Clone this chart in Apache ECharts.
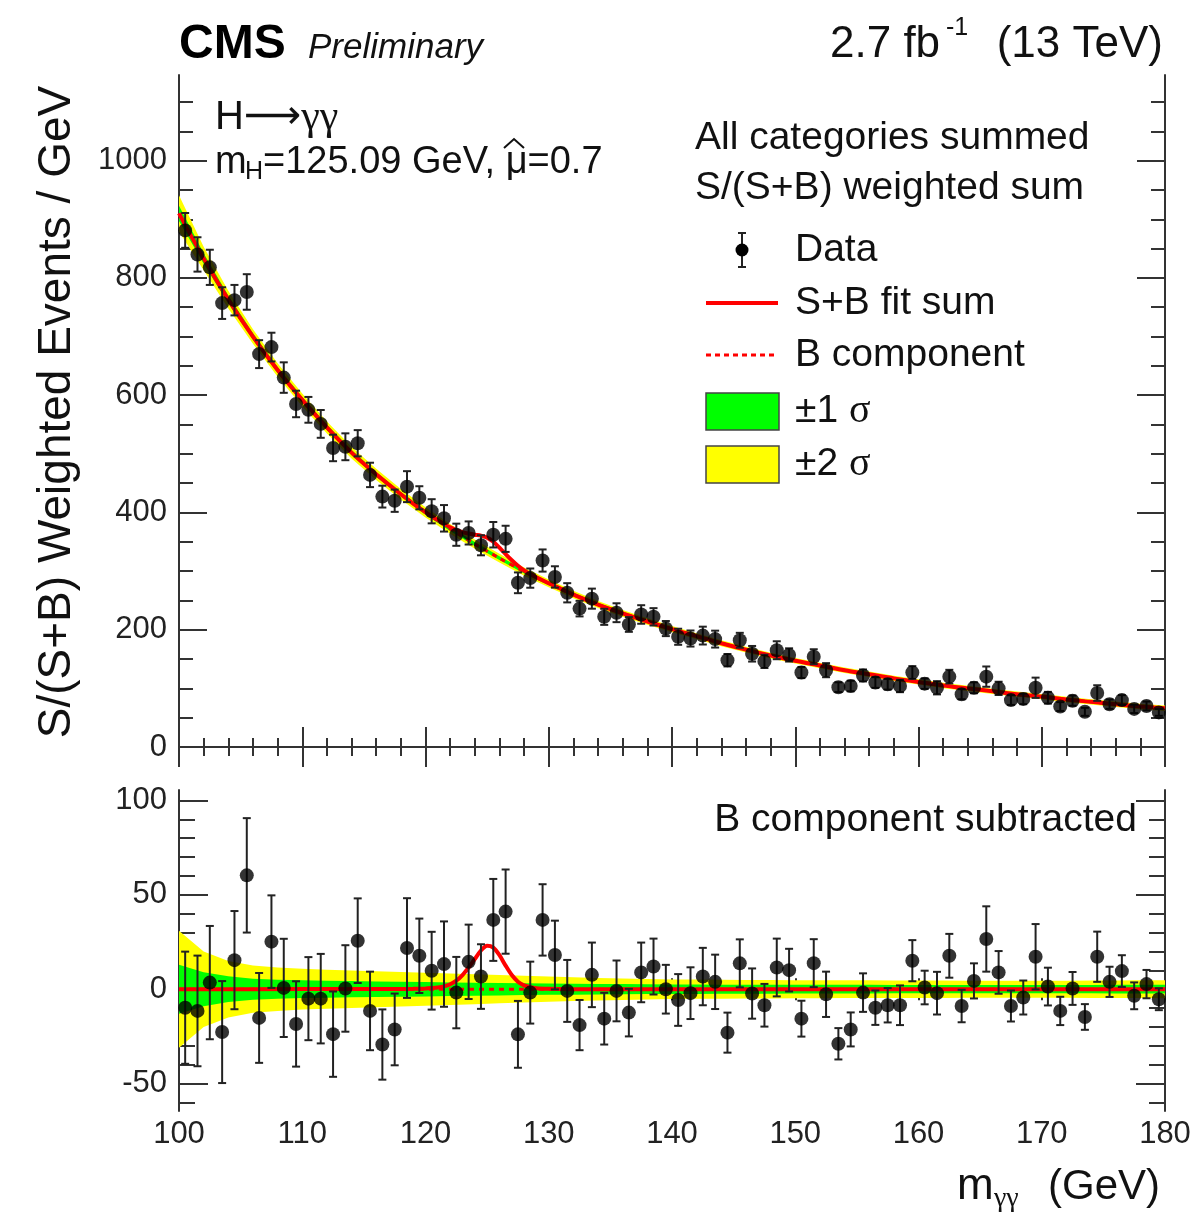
<!DOCTYPE html>
<html>
<head>
<meta charset="utf-8">
<script src="https://cdn.jsdelivr.net/npm/echarts@6/dist/echarts.min.js"></script>
<style>
html, body { margin: 0; padding: 0; background: #fff; }
#chart { width: 1196px; height: 1213px; }
</style>
</head>
<body>
<div id="chart"></div>
<script>
// bin centres in GeV (1 GeV bins)
const binCenters = [
  100.5, 101.5, 102.5, 103.5, 104.5, 105.5, 106.5, 107.5, 108.5, 109.5,
  110.5, 111.5, 112.5, 113.5, 114.5, 115.5, 116.5, 117.5, 118.5, 119.5,
  120.5, 121.5, 122.5, 123.5, 124.5, 125.5, 126.5, 127.5, 128.5, 129.5,
  130.5, 131.5, 132.5, 133.5, 134.5, 135.5, 136.5, 137.5, 138.5, 139.5,
  140.5, 141.5, 142.5, 143.5, 144.5, 145.5, 146.5, 147.5, 148.5, 149.5,
  150.5, 151.5, 152.5, 153.5, 154.5, 155.5, 156.5, 157.5, 158.5, 159.5,
  160.5, 161.5, 162.5, 163.5, 164.5, 165.5, 166.5, 167.5, 168.5, 169.5,
  170.5, 171.5, 172.5, 173.5, 174.5, 175.5, 176.5, 177.5, 178.5, 179.5
];
// upper panel: weighted events / GeV
const dataTop = [
  881, 840, 818, 757, 762, 776, 670, 682, 630, 585,
  575, 551, 510, 512, 518, 464, 427, 420, 444, 425,
  402, 390, 362, 365, 344, 362, 355, 280, 288, 318,
  290, 263, 236, 253, 222, 229, 209, 226, 222, 202,
  188, 185, 190, 184, 148, 182, 159, 146, 165, 157,
  127, 154, 131, 102, 104, 122, 110, 107, 104, 127,
  108, 101, 120, 90, 101, 120, 100, 80, 82, 101,
  84, 69, 79, 60, 92, 73, 80, 65, 70, 59
];
// lower panel: data minus B component
const dataSub = [
  -9.8, -11.5, 3.5, -22.7, 15.4, 60.3, -15.2, 25.2, 0.7, -18.4,
  -5, -5, -23.8, 0.4, 25.7, -11.5, -29.3, -21.3, 21.8, 17.7,
  9.8, 13.3, -1.8, 14.5, 6.7, 36.7, 41.1, -23.9, -1.8, 36.7,
  18.1, -0.9, -19, 7.6, -15.6, -0.9, -12.4, 8.9, 12, 0,
  -5.7, -2.1, 6.7, 3.9, -23, 13.7, -2.3, -8.5, 11.5, 10.1,
  -15.6, 13.8, -2.7, -28.9, -21.3, -1.8, -9.8, -8.5, -8.5, 15.1,
  0.9, -2.1, 17.7, -8.9, 4.4, 26.6, 8.9, -8.9, -4.4, 17.2,
  1.4, -11.5, 0.4, -14.7, 17.2, 3.9, 9.6, -3.5, 2.7, -5.3
];
// half length of the error bars (same in both panels)
const dataErr = [
  29.7, 29.3, 30, 27, 26, 30.3, 23.8, 24.5, 26, 22.6,
  22, 23.7, 22.6, 22.9, 22.4, 20.8, 18.6, 19, 26.4, 19.7,
  20.6, 22.6, 18.9, 19.7, 17.1, 21.7, 22.3, 17.7, 16.4, 18.9,
  18.2, 16.4, 13.3, 17.1, 13.7, 16.1, 12.6, 15.8, 14.8, 12.9,
  13.7, 13.7, 15.2, 14.4, 10.6, 12.7, 13.3, 11.3, 15.3, 11.3,
  9.5, 12.7, 12, 8.3, 9, 10.2, 9.1, 9.1, 10.5, 10.9,
  8.9, 11.3, 11.6, 8.6, 9.3, 17.3, 11.3, 8.2, 9, 17.3,
  10, 7.5, 8.7, 6.8, 13.3, 8, 8.4, 7.1, 7.5, 5.8
];

// background fit and its uncertainty bands, sampled every 2 GeV
const fitMass = [
  100, 102, 104, 106, 108, 110, 112, 114, 116, 118, 120, 122, 124, 126,
  128, 130, 132, 134, 136, 138, 140, 142, 144, 146, 148, 150, 152, 154,
  156, 158, 160, 162, 164, 166, 168, 170, 172, 174, 176, 178, 180
];
const bkgFit = [
  910, 833, 763, 700, 643, 592, 545, 502, 465, 431, 400, 372, 346, 322,
  299, 279, 260, 243, 228, 214, 201, 189, 177, 166, 156, 147, 139, 131,
  124, 117, 111, 105, 100, 95, 90, 86, 81, 77, 73, 69, 66
];
const band1Half = [
  13, 9, 6.8, 5.6, 5, 4.7, 4.5, 4.3, 4.1, 4, 3.8, 3.6, 3.4, 3.3,
  3.1, 3, 2.9, 2.8, 2.7, 2.6, 2.5, 2.5, 2.4, 2.4, 2.4, 2.3, 2.3, 2.3,
  2.3, 2.2, 2.2, 2.2, 2.2, 2.2, 2.2, 2.2, 2.2, 2.2, 2.3, 2.3, 2.3
];
const band2Half = [
  31, 20, 15, 12.5, 11.5, 10.8, 10.3, 9.9, 9.5, 9.1, 8.7, 8.3, 7.9, 7.5,
  7.1, 6.7, 6.3, 6, 5.7, 5.4, 5.2, 5.1, 5, 4.9, 4.9, 4.8, 4.8, 4.7,
  4.7, 4.6, 4.6, 4.6, 4.5, 4.5, 4.5, 4.5, 4.5, 4.6, 4.6, 4.7, 4.8
];

// S+B fit, finer around the peak
const sbMass = [
  100, 102, 104, 106, 108, 110, 112, 114, 116, 118, 119, 120, 120.5, 121,
  121.5, 122, 122.5, 123, 123.5, 124, 124.5, 125, 125.5, 126, 126.5, 127,
  127.5, 128, 128.5, 129, 130, 131, 132, 134, 136, 138, 140, 142, 144, 146,
  148, 150, 152, 154, 156, 158, 160, 162, 164, 166, 168, 170, 172, 174,
  176, 178, 180
];
const sbFit = [
  910, 833, 763, 700, 643, 592, 545, 502, 465, 431, 415.2, 400.4, 393.6, 386.9,
  380.5, 374.6, 370, 366.5, 364, 362, 360.5, 357, 350, 340, 329, 318.5,
  309, 301, 295, 289.5, 279.2, 269.6, 260, 243, 228, 214, 201, 189, 177, 166,
  156, 147, 139, 131, 124, 117, 111, 105, 100, 95, 90, 86, 81, 77,
  73, 69, 66
];
// signal only (S+B minus B), lower panel
const sigMass = [
  100, 110, 118, 119, 120, 120.5, 121, 121.5, 122, 122.5, 123, 123.5, 124,
  124.5, 125, 125.5, 126, 126.5, 127, 127.5, 128, 128.5, 129, 130, 131, 132,
  140, 150, 160, 170, 180
];
const sigFit = [
  0, 0.05, 0.1, 0.2, 0.4, 0.6, 0.9, 1.5, 2.6, 4.5, 7.5, 11.5, 16,
  20.5, 23, 22, 18, 12.5, 7.5, 4, 2, 1, 0.5, 0.2, 0.1, 0,
  0, 0, 0, 0, 0
];
const zeroMass = [100, 180];
const zeroLine = [0, 0];

const topYLabels = [0, 200, 400, 600, 800, 1000];
const topYMinor = [50, 100, 150, 250, 300, 350, 450, 500, 550, 650, 700, 750, 850, 900, 950, 1050, 1100];
const subYLabels = [-50, 0, 50, 100];
const subYMinor = [-60, -40, -30, -20, -10, 10, 20, 30, 40, 60, 70, 80, 90];

const FONT = '"Liberation Sans", Arial, sans-serif';
const SERIF = '"Liberation Serif", serif';
const INK = '#222';
const FRAME = { show: true, lineStyle: { color: '#333', width: 2 } };

const pair = (xs, ys) => xs.map((x, i) => [x, ys[i]]);

function xAxisDef(grid, pos, labels, major, minor) {
  return {
    type: 'value', gridIndex: grid, position: pos, min: 100, max: 180, interval: 10,
    axisLine: FRAME,
    axisTick: { show: true, inside: true, length: major, lineStyle: { color: '#333', width: 2 } },
    minorTick: { show: true, splitNumber: 5, length: minor, lineStyle: { color: '#333', width: 2 } },
    axisLabel: { show: labels, margin: 8, color: INK, fontSize: 31, fontFamily: FONT,
      formatter: v => String(v) },
    splitLine: { show: false }, minorSplitLine: { show: false }
  };
}
function yAxisDef(grid, pos, min, max, ticks, len, labels, line) {
  return {
    type: 'value', gridIndex: grid, position: pos, min: min, max: max,
    axisLine: line ? FRAME : { show: false },
    axisTick: { show: true, inside: true, length: len, customValues: ticks, lineStyle: { color: '#333', width: 2 } },
    axisLabel: labels
      ? { show: true, customValues: ticks, margin: 12, color: INK, fontSize: 31, fontFamily: FONT,
          formatter: v => String(v) }
      : { show: false },
    splitLine: { show: false }
  };
}

function errorBars(params, api) {
  const x = api.value(0), y = api.value(1), e = api.value(2);
  const hi = api.coord([x, y + e]);
  const lo = api.coord([x, y - e]);
  const cap = 4;
  const style = { stroke: '#222', lineWidth: 2 };
  return {
    type: 'group',
    children: [
      { type: 'line', shape: { x1: hi[0], y1: hi[1], x2: lo[0], y2: lo[1] }, style: style },
      { type: 'line', shape: { x1: hi[0] - cap, y1: hi[1], x2: hi[0] + cap, y2: hi[1] }, style: style },
      { type: 'line', shape: { x1: lo[0] - cap, y1: lo[1], x2: lo[0] + cap, y2: lo[1] }, style: style }
    ]
  };
}

// uncertainty band drawn as one polygon through the axis scales
function band(xi, yi, centre, half, color, z) {
  return {
    type: 'custom', xAxisIndex: xi, yAxisIndex: yi, z: z, silent: true, clip: true,
    data: fitMass.map((m, i) => [m, centre[i] - half[i], centre[i] + half[i]]),
    encode: { x: 0, y: [1, 2] },
    renderItem: function (params, api) {
      if (params.dataIndexInside !== 0) return null;
      const up = [], dn = [];
      for (let j = 0; j < params.dataInsideLength; j++) {
        up.push(api.coord([api.value(0, j), api.value(2, j)]));
        dn.push(api.coord([api.value(0, j), api.value(1, j)]));
      }
      return { type: 'polygon', shape: { points: up.concat(dn.reverse()) }, style: { fill: color } };
    }
  };
}

const zeros = fitMass.map(() => 0);
const series = [
  band(0, 0, bkgFit, band2Half, '#ffff00', 1),
  band(0, 0, bkgFit, band1Half, '#00ff00', 2),
  band(2, 4, zeros, band2Half, '#ffff00', 1),
  band(2, 4, zeros, band1Half, '#00ff00', 2),

  { type: 'line', xAxisIndex: 0, yAxisIndex: 0, data: pair(fitMass, bkgFit), symbol: 'none', smooth: 0.3, z: 3,
    lineStyle: { color: '#ff0000', width: 3, type: [5, 5] } },
  { type: 'line', xAxisIndex: 0, yAxisIndex: 0, data: pair(sbMass, sbFit), symbol: 'none', smooth: 0.3, z: 4,
    lineStyle: { color: '#ff0000', width: 4 } },
  { type: 'custom', xAxisIndex: 0, yAxisIndex: 0, renderItem: errorBars, z: 5,
    encode: { x: 0, y: 1 }, data: binCenters.map((m, i) => [m, dataTop[i], dataErr[i]]) },
  { type: 'scatter', xAxisIndex: 0, yAxisIndex: 0, data: pair(binCenters, dataTop), symbolSize: 14, z: 6,
    itemStyle: { color: '#000' } },

  { type: 'line', xAxisIndex: 2, yAxisIndex: 4, data: pair(zeroMass, zeroLine), symbol: 'none', z: 3,
    lineStyle: { color: '#ff0000', width: 3, type: [5, 5] } },
  { type: 'line', xAxisIndex: 2, yAxisIndex: 4, data: pair(sigMass, sigFit), symbol: 'none', smooth: 0.3, z: 4,
    lineStyle: { color: '#ff0000', width: 4 } },
  { type: 'custom', xAxisIndex: 2, yAxisIndex: 4, renderItem: errorBars, z: 5,
    encode: { x: 0, y: 1 }, data: binCenters.map((m, i) => [m, dataSub[i], dataErr[i]]) },
  { type: 'scatter', xAxisIndex: 2, yAxisIndex: 4, data: pair(binCenters, dataSub), symbolSize: 14, z: 6,
    itemStyle: { color: '#000' } }
];

function txt(x, y, text, size, opts) {
  return {
    type: 'text', x: x, y: y, z: 100,
    style: Object.assign({ text: text, fontSize: size, fontFamily: FONT, fill: '#111',
      textAlign: 'left', textVerticalAlign: 'middle' }, opts || {})
  };
}
const sigmaRich = { g: { fontFamily: SERIF, fontSize: 40, fill: '#111' } };

const graphics = [
  txt(179, 45, 'CMS', 48, { fontWeight: 'bold', fill: '#000' }),
  txt(308, 48, 'Preliminary', 35, { fontStyle: 'italic' }),
  txt(830, 45, '2.7 fb', 44),
  txt(946, 28, '-1', 25),
  txt(1163, 45, '(13 TeV)', 44, { textAlign: 'right' }),

  { type: 'text', x: 57, y: 412, rotation: Math.PI / 2, z: 100,
    style: { text: 'S/(S+B) Weighted Events / GeV', fontSize: 46, fontFamily: FONT, fill: '#111',
      textAlign: 'center', textVerticalAlign: 'middle' } },

  txt(957, 1187, 'm', 44),
  txt(994, 1199, 'γγ', 28, { fontFamily: SERIF }),
  txt(1160, 1187, '(GeV)', 42, { textAlign: 'right' }),

  { type: 'text', x: 215, y: 118, z: 100,
    style: { text: 'H{a|⟶}{g|γγ}', fontSize: 40, fontFamily: FONT, fill: '#111', textVerticalAlign: 'middle',
      rich: { a: { fontSize: 40, fontFamily: '"DejaVu Sans", sans-serif', fill: '#111' },
              g: { fontSize: 42, fontFamily: SERIF, fill: '#111' } } } },
  txt(215, 163, 'm', 38),
  txt(245, 172, 'H', 25),
  txt(263, 163, '=125.09 GeV, μ=0.7', 38),
  { type: 'polyline', z: 100, shape: { points: [[504, 148], [514, 139], [524, 148]] },
    style: { stroke: '#111', lineWidth: 2, fill: null } },

  txt(695, 138, 'All categories summed', 39),
  txt(695, 188, 'S/(S+B) weighted sum', 39),

  // legend: data marker
  { type: 'line', z: 100, shape: { x1: 742, y1: 233, x2: 742, y2: 267 }, style: { stroke: '#222', lineWidth: 2 } },
  { type: 'line', z: 100, shape: { x1: 738, y1: 233, x2: 746, y2: 233 }, style: { stroke: '#222', lineWidth: 2 } },
  { type: 'line', z: 100, shape: { x1: 738, y1: 267, x2: 746, y2: 267 }, style: { stroke: '#222', lineWidth: 2 } },
  { type: 'circle', z: 101, shape: { cx: 742, cy: 250, r: 6.5 }, style: { fill: '#000' } },
  txt(795, 250, 'Data', 39),
  { type: 'line', z: 100, shape: { x1: 706, y1: 303, x2: 778, y2: 303 }, style: { stroke: '#ff0000', lineWidth: 4 } },
  txt(795, 303, 'S+B fit sum', 39),
  { type: 'line', z: 100, shape: { x1: 706, y1: 355, x2: 778, y2: 355 }, style: { stroke: '#ff0000', lineWidth: 3, lineDash: [5, 4] } },
  txt(795, 355, 'B component', 39),
  { type: 'rect', z: 100, shape: { x: 706, y: 393, width: 73, height: 37 }, style: { fill: '#00ff00', stroke: '#444', lineWidth: 1.5 } },
  { type: 'text', x: 795, y: 411, z: 100,
    style: { text: '±1 {g|σ}', rich: sigmaRich, fontSize: 39, fontFamily: FONT, fill: '#111', textVerticalAlign: 'middle' } },
  { type: 'rect', z: 100, shape: { x: 706, y: 446, width: 73, height: 37 }, style: { fill: '#ffff00', stroke: '#444', lineWidth: 1.5 } },
  { type: 'text', x: 795, y: 464, z: 100,
    style: { text: '±2 {g|σ}', rich: sigmaRich, fontSize: 39, fontFamily: FONT, fill: '#111', textVerticalAlign: 'middle' } },

  txt(1137, 820, 'B component subtracted', 39, { textAlign: 'right' })
];

const chart = echarts.init(document.getElementById('chart'), null, { renderer: 'canvas' });
chart.setOption({
  backgroundColor: '#fff',
  animation: false,
  grid: [
    { left: 179, top: 75, width: 986, height: 672 },
    { left: 179, top: 790, width: 986, height: 321 }
  ],
  xAxis: [
    xAxisDef(0, 'bottom', false, 20, 9),
    xAxisDef(0, 'top', false, 20, 9),
    xAxisDef(1, 'bottom', true, 11, 7),
    xAxisDef(1, 'top', false, 11, 7)
  ],
  yAxis: [
    yAxisDef(0, 'left', 0, 1146, topYLabels, 28, true, true),
    yAxisDef(0, 'left', 0, 1146, topYMinor, 14, false, false),
    yAxisDef(0, 'right', 0, 1146, topYLabels, 28, false, true),
    yAxisDef(0, 'right', 0, 1146, topYMinor, 14, false, false),
    yAxisDef(1, 'left', -64.5, 105.5, subYLabels, 29, true, true),
    yAxisDef(1, 'left', -64.5, 105.5, subYMinor, 16, false, false),
    yAxisDef(1, 'right', -64.5, 105.5, subYLabels, 29, false, true),
    yAxisDef(1, 'right', -64.5, 105.5, subYMinor, 16, false, false)
  ],
  series: series,
  graphic: graphics
});
</script>
</body>
</html>
